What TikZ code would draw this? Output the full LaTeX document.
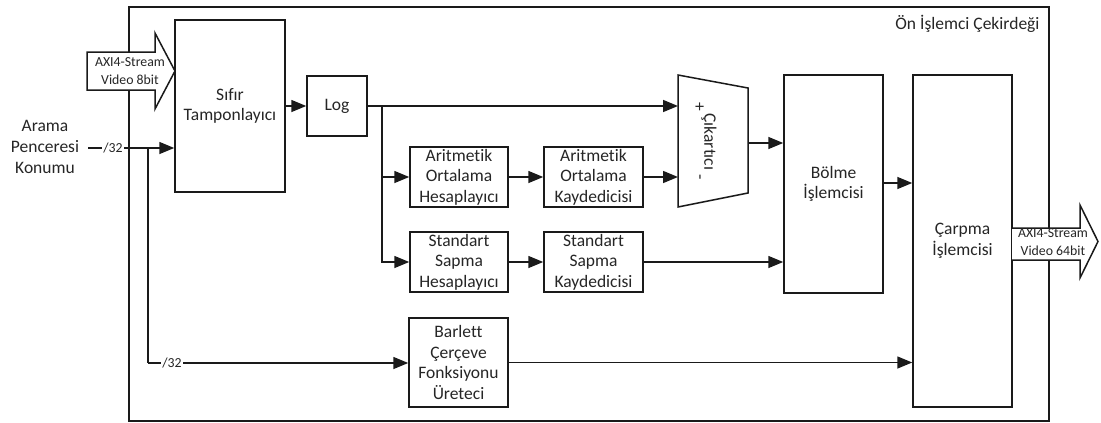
\documentclass[tikz,border=0pt]{standalone}
\usepackage{fontspec}
\setmainfont{Carlito}[Ligatures=NoCommon]
\usetikzlibrary{arrows.meta}
\definecolor{ink}{HTML}{1A1A1A}
\definecolor{txt}{HTML}{262626}
\tikzset{
  wire/.style={draw=ink, line width=1.5pt},
  arr/.style={wire, -{Triangle[length=15pt,width=12pt]}},
  blockbox/.style={draw=ink, line width=1.5pt, fill=white, inner sep=0pt,
    align=center, text=txt, font=\fontsize{17.5}{20.5}\selectfont},
  maintext/.style={text=txt, align=center, font=\fontsize{17.5}{21}\selectfont},
  smalltext/.style={text=txt, align=center, font=\fontsize{13.8}{17.5}\selectfont},
  buslabel/.style={text=txt, fill=white, inner sep=1pt, font=\fontsize{13.8}{14}\selectfont},
  bigarrow/.style={draw=ink, line width=1.5pt, fill=white, line join=miter},
}
\begin{document}
\begin{tikzpicture}[x=1pt, y=-1pt]
\useasboundingbox (0,0) rectangle (1101,423);

% core frame
\draw[draw=ink, line width=1.5pt] (129,7) rectangle (1049,421);
\node[maintext, anchor=base east] (title) at (1043,29) {Ön İşlemci Çekirdeği};

% processing blocks
\node[blockbox, minimum width=110pt, minimum height=172pt] (sifir) at (230,106) {Sıfır\\Tamponlayıcı};
\node[blockbox, minimum width=60pt, minimum height=60pt] (log) at (337,106) {Log};
\node[blockbox, minimum width=98pt, minimum height=60pt] (aoh) at (459,177) {Aritmetik\\Ortalama\\Hesaplayıcı};
\node[blockbox, minimum width=99pt, minimum height=60pt] (aok) at (593.5,177) {Aritmetik\\Ortalama\\Kaydedicisi};
\node[blockbox, minimum width=98pt, minimum height=60pt] (ssh) at (459,262) {Standart\\Sapma\\Hesaplayıcı};
\node[blockbox, minimum width=99pt, minimum height=60pt] (ssk) at (593.5,262) {Standart\\Sapma\\Kaydedicisi};
\node[blockbox, minimum width=99pt, minimum height=89pt] (bar) at (458.5,362.5) {Barlett\\Çerçeve\\Fonksiyonu\\Üreteci};
\node[blockbox, minimum width=99pt, minimum height=218pt] (bolme) at (833.5,184) {Bölme\\İşlemcisi};
\node[blockbox, minimum width=99pt, minimum height=332pt] (carpma) at (962.5,241) {Çarpma\\İşlemcisi};

% subtractor (trapezoid)
\coordinate (t1) at (678,75);
\coordinate (t2) at (748,88);
\coordinate (t3) at (748,193);
\coordinate (t4) at (678,207);
\draw[draw=ink, line width=1.5pt, fill=white, line join=miter] (t1) -- (t2) -- (t3) -- (t4) -- cycle;
\node[text=txt, rotate=-90, font=\fontsize{17.5}{18}\selectfont] (cik) at (709,142) {Çıkartıcı};
\node[text=txt, rotate=-90, font=\fontsize{17.5}{18}\selectfont] (plus) at (699,107) {+};
\node[text=txt, rotate=-90, font=\fontsize{17.5}{18}\selectfont] (minus) at (698,177) {-};
\coordinate (cikp) at (678,106);
\coordinate (cikm) at (678,177);
\coordinate (cikout) at (748,143);

% stream input / output arrows
\draw[bigarrow] (87,52) -- (155,52) -- (155,33) -- (175,71) -- (155,109) -- (155,90) -- (87,90) -- cycle;
\node[smalltext] (axin) at (130,71) {AXI4-Stream\\Video 8bit};
\draw[bigarrow] (1012,228) -- (1080,228) -- (1080,205) -- (1098,241.5) -- (1080,278) -- (1080,260) -- (1012,260);
\node[smalltext] (axout) at (1053,242) {AXI4-Stream\\Video 64bit};

% search window position input
\node[maintext] (arama) at (45,146.5) {Arama\\Penceresi\\Konumu};
\coordinate (inA) at (88,148);
\coordinate (jA) at (148,148);
\coordinate (jB) at (148,363);

% connections
\draw[arr] (inA) -- (sifir.west |- inA);
\draw[wire] (jA) -- (jB);
\draw[arr] (jB) -- (bar.west |- jB);
\node[buslabel] (w1) at (113,148) {/32};
\node[buslabel] (w2) at (172,363) {/32};

\draw[arr] (sifir.east |- log.west) -- (log.west);
\coordinate (jL) at (382,106);
\draw[arr] (log.east) -- (cikp);
\draw[wire] (jL) -- (382,262);
\draw[arr] (jL) |- (aoh.west);
\draw[arr] (jL) |- (ssh.west);
\draw[arr] (aoh.east) -- (aok.west);
\draw[arr] (aok.east) -- (cikm);
\draw[arr] (ssh.east) -- (ssk.west);
\draw[arr] (ssk.east) -- (bolme.west |- ssk.east);
\draw[arr] (cikout) -- (bolme.west |- cikout);
\draw[arr] (bolme.east |- 0,183) -- (carpma.west |- 0,183);
\draw[arr] (bar.east) -- (carpma.west |- bar.east);
\end{tikzpicture}
\end{document}
